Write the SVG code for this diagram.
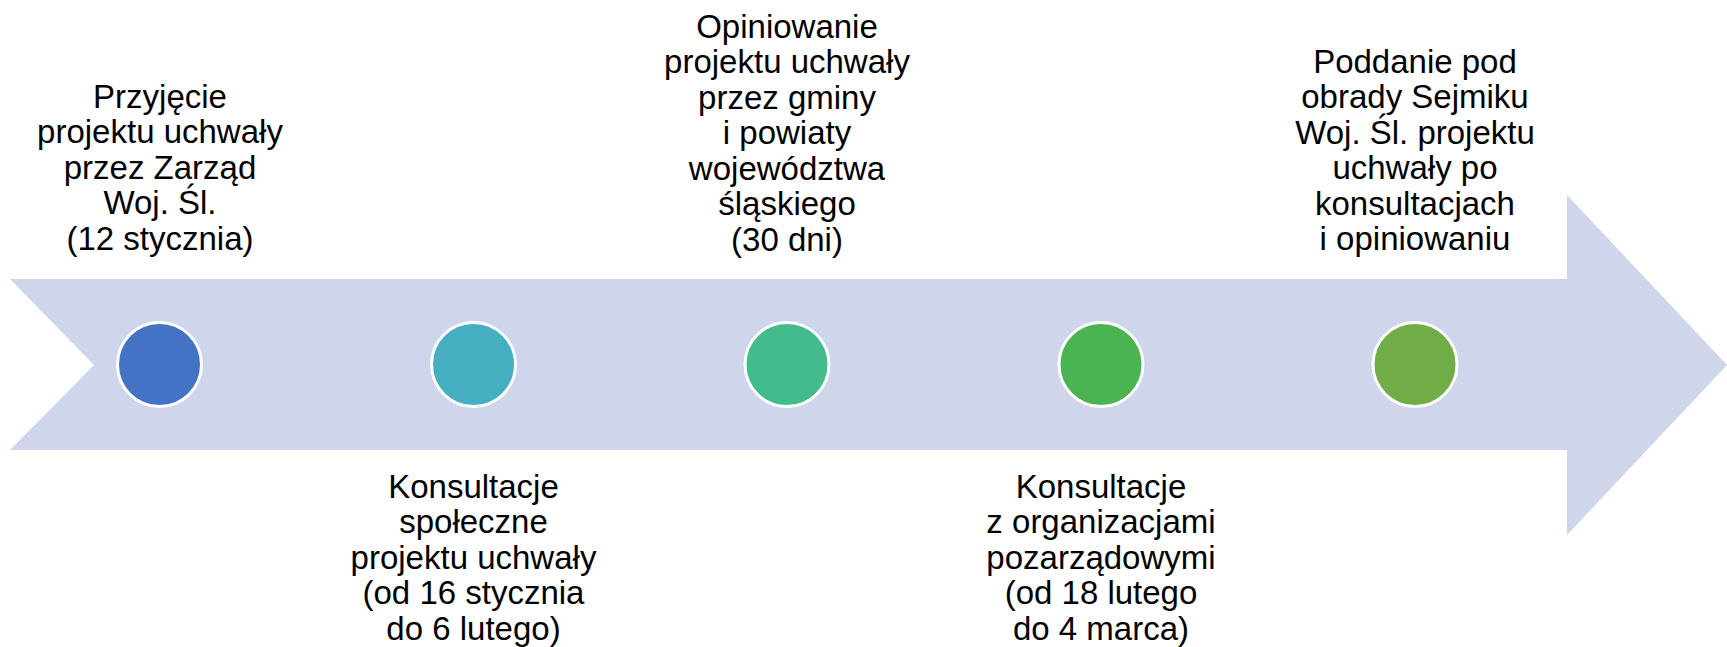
<svg xmlns="http://www.w3.org/2000/svg" width="1727" height="647" viewBox="0 0 1727 647">
<style>
.t{font-family:"Liberation Sans",Arial,sans-serif;font-size:33px;fill:#000;text-anchor:middle}
.c{stroke:#fff;stroke-width:3}
</style>
<rect width="1727" height="647" fill="#fff"/>
<g id="connectors">
<polygon id="arrow" points="10,279 1567,279 1567,195 1727,365 1567,535 1567,450 10,450 94,365" fill="#CFD5EA"/>
</g>
<g id="node1">
<circle class="c" cx="159.5" cy="364.5" r="42" fill="#4472C4"/>
<text class="t" x="160"><tspan x="160" y="107.5">Przyjęcie</tspan><tspan x="160" y="143">projektu uchwały</tspan><tspan x="160" y="178.5">przez Zarząd</tspan><tspan x="160" y="214">Woj. Śl.</tspan><tspan x="160" y="249.5">(12 stycznia)</tspan></text>
</g>
<g id="node2">
<circle class="c" cx="473.5" cy="364.5" r="42" fill="#45AFC1"/>
<text class="t" x="473.5"><tspan x="473.5" y="497.5">Konsultacje</tspan><tspan x="473.5" y="533">społeczne</tspan><tspan x="473.5" y="568.5">projektu uchwały</tspan><tspan x="473.5" y="604">(od 16 stycznia</tspan><tspan x="473.5" y="639.5">do 6 lutego)</tspan></text>
</g>
<g id="node3">
<circle class="c" cx="787" cy="364.5" r="42" fill="#44BB8C"/>
<text class="t" x="787"><tspan x="787" y="37.5">Opiniowanie</tspan><tspan x="787" y="73">projektu uchwały</tspan><tspan x="787" y="108.5">przez gminy</tspan><tspan x="787" y="144">i powiaty</tspan><tspan x="787" y="179.5">województwa</tspan><tspan x="787" y="215">śląskiego</tspan><tspan x="787" y="250.5">(30 dni)</tspan></text>
</g>
<g id="node4">
<circle class="c" cx="1101" cy="364.5" r="42" fill="#4AB452"/>
<text class="t" x="1101"><tspan x="1101" y="497.5">Konsultacje</tspan><tspan x="1101" y="533">z organizacjami</tspan><tspan x="1101" y="568.5">pozarządowymi</tspan><tspan x="1101" y="604">(od 18 lutego</tspan><tspan x="1101" y="639.5">do 4 marca)</tspan></text>
</g>
<g id="node5">
<circle class="c" cx="1415" cy="364.5" r="42" fill="#70AD47"/>
<text class="t" x="1415"><tspan x="1415" y="72.5">Poddanie pod</tspan><tspan x="1415" y="108">obrady Sejmiku</tspan><tspan x="1415" y="143.5">Woj. Śl. projektu</tspan><tspan x="1415" y="179">uchwały po</tspan><tspan x="1415" y="214.5">konsultacjach</tspan><tspan x="1415" y="250">i opiniowaniu</tspan></text>
</g>
</svg>
